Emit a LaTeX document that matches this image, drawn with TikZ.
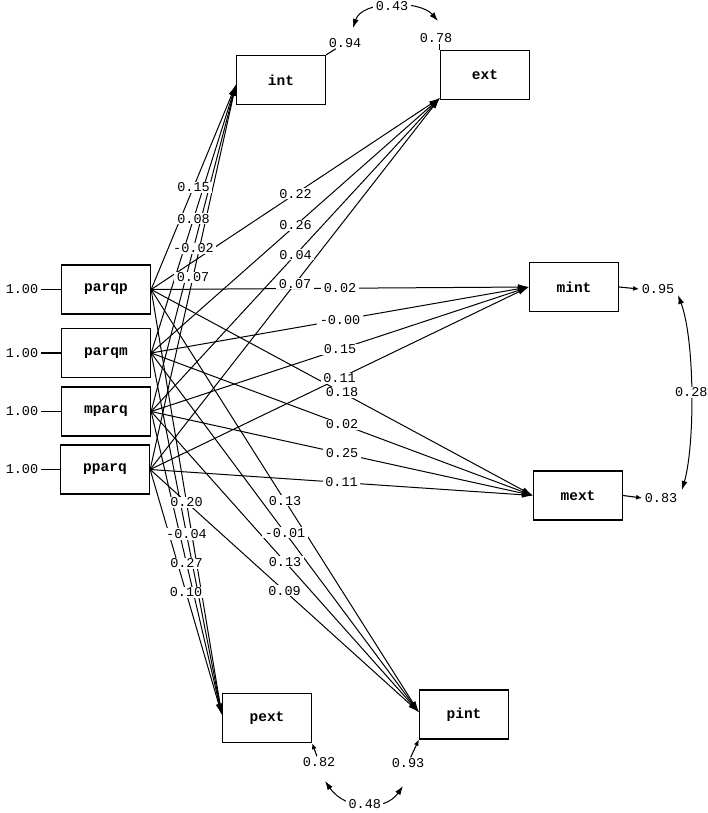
\documentclass[tikz,border=0pt]{standalone}
\usepackage{fontspec}
\setmonofont{Liberation Mono}
\usetikzlibrary{arrows.meta}
\tikzset{
  var/.style={draw,line width=1.3pt,minimum width=89pt,minimum height=49pt,
    font=\fontsize{14.5}{14.5}\selectfont\ttfamily\bfseries},
  coef/.style={fill=white,inner xsep=2.5pt,inner ysep=1pt,
    font=\fontsize{13.5}{13.5}\selectfont\ttfamily},
  causal/.style={line width=1pt,-{Latex[length=11pt,width=6pt]}},
  errline/.style={line width=1.1pt},
  errtip/.style={line width=1.1pt,-{Latex[length=6pt,width=5pt]}},
  cov/.style={line width=1pt,{Latex[length=9pt,width=6pt]}-{Latex[length=9pt,width=6pt]}}
}
\begin{document}
\begin{tikzpicture}[x=1pt,y=-1pt]
\useasboundingbox (0,0) rectangle (708,813);

\node[var] (parqp) at (106,289.5) {parqp};
\node[var] (parqm) at (106,353) {parqm};
\node[var] (mparq) at (106,411.5) {mparq};
\node[var] (pparq) at (105,469.5) {pparq};

\node[var] (int) at (281,80) {int};
\node[var] (ext) at (485,75) {ext};
\node[var] (mint) at (574,287) {mint};
\node[var] (mext) at (578,495.5) {mext};
\node[var] (pext) at (267,718) {pext};
\node[var] (pint) at (464,714.5) {pint};

\coordinate (int-in) at (int.186);
\coordinate (ext-in) at (ext.207);
\coordinate (mint-in) at (mint.west);
\coordinate (mext-in) at (mext.west);
\coordinate (pext-in) at (pext.176);
\coordinate (pint-in) at (pint.177);

\foreach \s in {parqp,parqm,mparq,pparq}{
  \node[coef] (one-\s) at (22,0 |- \s.west) {1.00};
  \draw[errline] (one-\s) -- (\s.west);
  \foreach \t in {int,ext,mint,mext,pext,pint}
    \draw[causal] (\s.east) -- (\t-in);
}

\foreach \s/\t/\v in {parqp/int/0.15,parqm/int/0.08,mparq/int/-0.02,pparq/int/0.07,
    parqp/ext/0.22,parqm/ext/0.26,mparq/ext/0.04,pparq/ext/0.07,
    parqp/mint/0.02,parqm/mint/-0.00,mparq/mint/0.15,pparq/mint/0.11,
    parqp/mext/0.18,parqm/mext/0.02,mparq/mext/0.25,pparq/mext/0.11,
    parqp/pext/0.20,parqm/pext/-0.04,mparq/pext/0.27,pparq/pext/0.10,
    parqp/pint/0.13,parqm/pint/-0.01,mparq/pint/0.13,pparq/pint/0.09}
  \path (\s.east) -- (\t-in) node[coef,midway] {\v};

\node[coef] (err-int) at (345,43) {0.94};
\node[coef] (err-ext) at (436,38) {0.78};
\node[coef] (err-mint) at (658,289) {0.95};
\node[coef] (err-mext) at (661,498) {0.83};
\node[coef] (err-pext) at (319,762) {0.82};
\node[coef] (err-pint) at (408,763) {0.93};

\draw[errline] (err-int) -- (int.north east);
\draw[errline] (err-ext.south -| ext.north west) -- (ext.north west);
\draw[errtip] (mint.east) -- (err-mint.west);
\draw[errtip] (mext.east) -- (err-mext.west);
\draw[errtip] (err-pext) -- (pext.south east);
\draw[errtip] (err-pint) -- (pint.south west);

\coordinate (c43a) at (353,28);
\coordinate (c43b) at (438,21);
\coordinate (c28a) at (678,295);
\coordinate (c28b) at (682,490);
\coordinate (c48a) at (325,781);
\coordinate (c48b) at (403,786);

\draw[cov] (c43a) .. controls (362,0) and (420,0) .. (c43b) node[coef,midway] {0.43};
\draw[cov] (c28a) .. controls (695,340) and (695,445) .. (c28b) node[coef,midway] {0.28};
\draw[cov] (c48a) .. controls (345,810) and (385,812) .. (c48b) node[coef,midway] {0.48};
\end{tikzpicture}
\end{document}
